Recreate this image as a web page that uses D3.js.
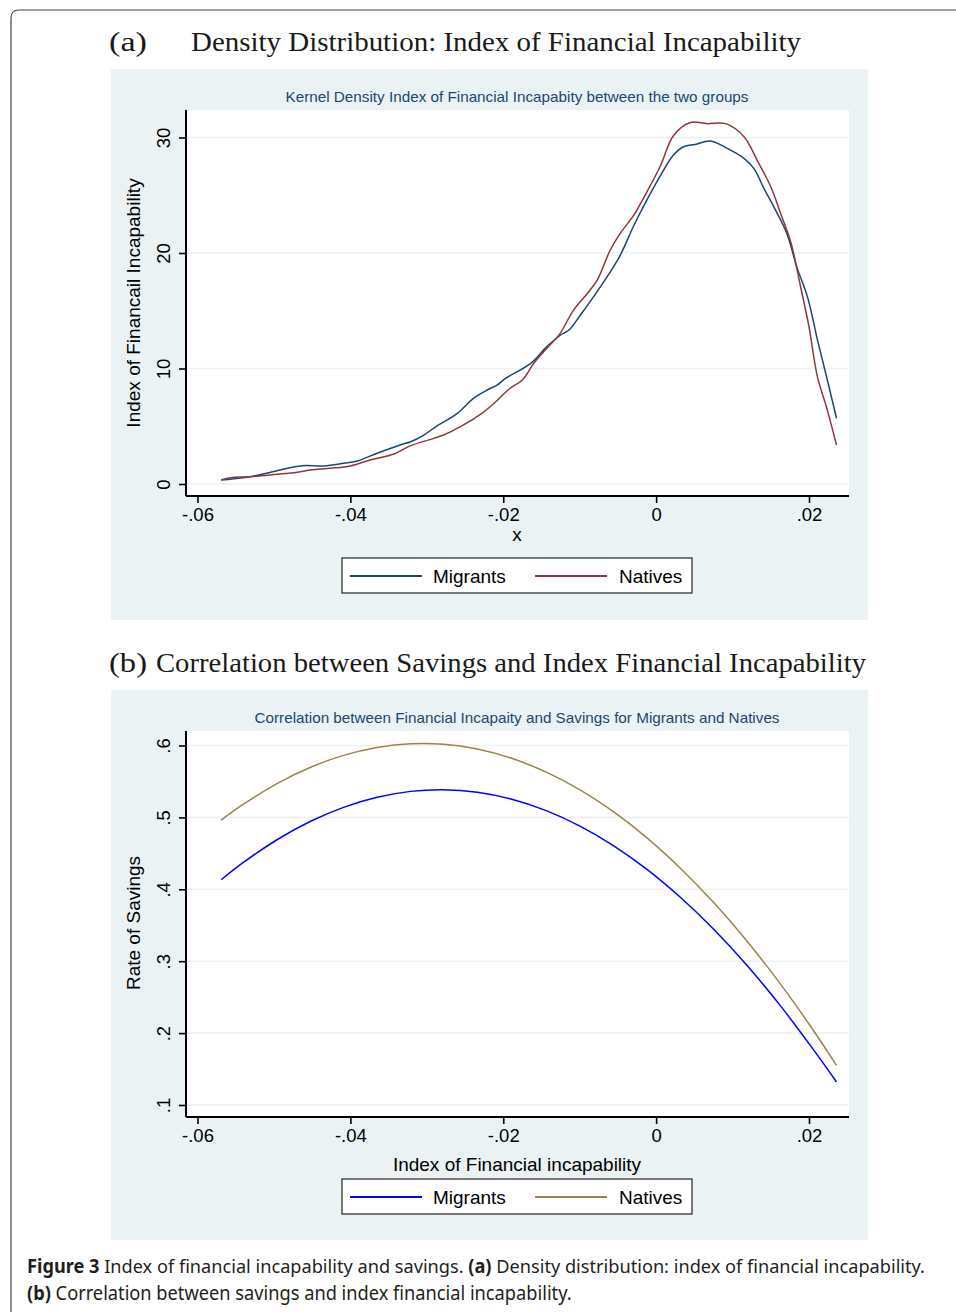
<!DOCTYPE html>
<html><head><meta charset="utf-8">
<script src="https://cdn.jsdelivr.net/npm/d3@7"></script>
<style>body{margin:0;background:#fff}svg{display:block}</style>
</head><body>
<svg id="c" width="956" height="1312"></svg>
<script>
// ---------- DATA ----------
const xTicks = [-0.06, -0.04, -0.02, 0, 0.02];
const xTickLabels = ["-.06", "-.04", "-.02", "0", ".02"];
const yTicksA = [0, 10, 20, 30];
const yTickLabelsA = ["0", "10", "20", "30"];
const yTicksB = [0.1, 0.2, 0.3, 0.4, 0.5, 0.6];
const yTickLabelsB = [".1", ".2", ".3", ".4", ".5", ".6"];
const seriesNames = ["Migrants", "Natives"];

// Panel (a): kernel density
const migrantsDensityX = [-0.0569,-0.0531,-0.0496,-0.0463,-0.0435,-0.0409,-0.0391,-0.0365,-0.0335,-0.0321,-0.0304,-0.0287,-0.0260,-0.0239,-0.0221,-0.0208,-0.0197,-0.0164,-0.0143,-0.0125,-0.0114,-0.0099,-0.0082,-0.0064,-0.0047,-0.0029,-0.0012,0.0006,0.0023,0.0036,0.0051,0.0071,0.0093,0.0115,0.0128,0.0141,0.0154,0.0171,0.0184,0.0198,0.0211,0.0224,0.0236];
const migrantsDensityY = [0.35,0.63,1.15,1.58,1.56,1.79,1.99,2.66,3.38,3.66,4.24,5.02,6.12,7.42,8.14,8.57,9.15,10.45,11.89,12.9,13.33,14.63,16.2,17.95,19.8,22.4,24.6,26.75,28.5,29.2,29.4,29.7,29.06,28.2,27.3,25.6,24.0,21.7,18.8,16.2,12.5,9.0,5.69];
const nativesDensityX = [-0.0569,-0.0557,-0.0531,-0.0496,-0.0474,-0.0452,-0.0426,-0.0400,-0.0374,-0.0343,-0.0321,-0.0291,-0.0278,-0.0256,-0.0228,-0.0212,-0.0191,-0.0175,-0.0160,-0.0143,-0.0127,-0.0108,-0.0090,-0.0077,-0.0060,-0.0047,-0.0029,-0.0012,0.0006,0.0023,0.0045,0.0067,0.0091,0.0115,0.0132,0.0150,0.0163,0.0176,0.0189,0.0200,0.0211,0.0224,0.0236];
const nativesDensityY = [0.35,0.55,0.63,0.84,0.98,1.21,1.36,1.56,2.08,2.6,3.32,3.95,4.24,4.96,6.12,6.99,8.29,9.0,10.45,11.75,12.9,15.06,16.5,17.66,20.26,21.7,23.3,25.3,27.6,30.2,31.3,31.2,31.2,30.07,28.05,25.74,23.4,20.98,17.08,13.6,9.29,6.4,3.38];

// Panel (b): fitted savings rate
const savingsX = [-0.0569,-0.0540,-0.0496,-0.0452,-0.0409,-0.0365,-0.0321,-0.0278,-0.0234,-0.0191,-0.0143,-0.0099,-0.0055,-0.0012,0.0032,0.0075,0.0119,0.0163,0.0206,0.0236];
const migrantsSavings = [0.4133,0.4373,0.4689,0.4946,0.5140,0.5280,0.5362,0.5385,0.5350,0.5259,0.5091,0.4876,0.4602,0.4277,0.3886,0.3448,0.2941,0.2375,0.1766,0.1320];
const nativesSavings = [0.4962,0.5183,0.5470,0.5697,0.5863,0.5973,0.6024,0.6017,0.5951,0.5829,0.5626,0.5379,0.5072,0.4715,0.4290,0.3819,0.3277,0.2677,0.2033,0.1550];

// ---------- DRAW ----------
const svg = d3.select("#c");
const SANS = "'Liberation Sans', Arial, sans-serif";
const SERIF = "'Liberation Serif', 'DejaVu Serif', serif";
const BG = "#eaf2f3";

// page frame
svg.append("path").attr("d","M11,1312 L11,18 Q11,10 19,10 L956,10")
  .attr("fill","none").attr("stroke","#444").attr("stroke-width",1.2);

function fitText(sel, target){
  const w = sel.node().getComputedTextLength();
  if (w > 0) sel.attr("textLength", target).attr("lengthAdjust","spacingAndGlyphs");
}

const x = d3.scaleLinear().domain([-0.06, 0.02]).range([197.5, 809]);

function panel(cfg){
  const g = svg.append("g");
  g.append("rect").attr("x",111).attr("y",cfg.bgTop).attr("width",757).attr("height",cfg.bgH).attr("fill",BG);
  g.append("rect").attr("x",186).attr("y",cfg.plotTop).attr("width",663).attr("height",cfg.plotBottom-cfg.plotTop).attr("fill","#fff");
  const y = cfg.y;
  // grid
  g.selectAll(".grid").data(cfg.yTicks).join("line")
    .attr("x1",186).attr("x2",849).attr("y1",d=>y(d)).attr("y2",d=>y(d))
    .attr("stroke",BG).attr("stroke-width",1.6);
  // subtitle
  const st = g.append("text").attr("x",517).attr("y",cfg.subY).attr("text-anchor","middle")
    .attr("font-family",SANS).attr("font-size",15).attr("fill","#1a476f").text(cfg.sub);
  fitText(st, cfg.subW);
  // lines
  const line = d3.line().x(d=>x(d[0])).y(d=>y(d[1])).curve(d3.curveCatmullRom.alpha(0.5));
  cfg.series.forEach(s=>{
    g.append("path").datum(s.xs.map((v,i)=>[v,s.ys[i]])).attr("d",line)
      .attr("fill","none").attr("stroke",s.color).attr("stroke-width",1.5);
  });
  // x axis
  const xa = g.append("g").attr("transform",`translate(0,${cfg.plotBottom})`)
    .call(d3.axisBottom(x).tickValues(xTicks).tickFormat((d,i)=>xTickLabels[i]).tickSize(7).tickSizeOuter(0).tickPadding(5));
  xa.select(".domain").attr("d",`M186,0H849`).attr("stroke","#000").attr("stroke-width",2);
  xa.selectAll(".tick line").attr("stroke","#000").attr("stroke-width",1.6);
  xa.selectAll("text").attr("font-family",SANS).attr("font-size",18.5).attr("fill","#000");
  // y axis
  const ya = g.append("g").attr("transform","translate(186,0)")
    .call(d3.axisLeft(y).tickValues(cfg.yTicks).tickFormat((d,i)=>cfg.yLabels[i]).tickSize(7).tickSizeOuter(0));
  ya.select(".domain").attr("d",`M0,${cfg.plotTop}V${cfg.plotBottom}`).attr("stroke","#000").attr("stroke-width",2);
  ya.selectAll(".tick line").attr("stroke","#000").attr("stroke-width",1.6);
  ya.selectAll("text").attr("x",null).attr("dy",null)
    .attr("transform","translate(-16,0) rotate(-90)").attr("text-anchor","middle")
    .attr("font-family",SANS).attr("font-size",18.5).attr("fill","#000");
  // axis titles
  g.append("text").attr("x",517).attr("y",cfg.xTitleY).attr("text-anchor","middle")
    .attr("font-family",SANS).attr("font-size",19).attr("fill","#000").text(cfg.xTitle);
  g.append("text").attr("transform",`translate(140,${cfg.yTitleC}) rotate(-90)`).attr("text-anchor","middle")
    .attr("font-family",SANS).attr("font-size",19).attr("fill","#000").text(cfg.yTitle);
  // legend
  const ly = cfg.legTop;
  g.append("rect").attr("x",342).attr("y",ly).attr("width",350).attr("height",35)
    .attr("fill","#fff").attr("stroke","#222").attr("stroke-width",1.2);
  const lx = [[350,422,433],[535,607,619]];
  cfg.series.forEach((s,i)=>{
    g.append("line").attr("x1",lx[i][0]).attr("x2",lx[i][1]).attr("y1",ly+18).attr("y2",ly+18)
      .attr("stroke",s.color).attr("stroke-width",2);
    g.append("text").attr("x",lx[i][2]).attr("y",ly+24.5).attr("font-family",SANS)
      .attr("font-size",19).attr("fill","#000").text(seriesNames[i]);
  });
}

panel({
  bgTop:69, bgH:551, plotTop:110, plotBottom:496,
  y: d3.scaleLinear().domain([0,30]).range([484,137.5]),
  yTicks: yTicksA, yLabels: yTickLabelsA,
  sub: "Kernel Density Index of Financial Incapabity between the two groups", subY:102, subW:463,
  xTitle: "x", xTitleY:541, yTitle: "Index of Financail Incapability", yTitleC:303,
  legTop:558,
  series:[
    {xs:migrantsDensityX, ys:migrantsDensityY, color:"#1a476f"},
    {xs:nativesDensityX, ys:nativesDensityY, color:"#90353b"}
  ]
});

panel({
  bgTop:690, bgH:550, plotTop:731, plotBottom:1117,
  y: d3.scaleLinear().domain([0.1,0.6]).range([1105,745.5]),
  yTicks: yTicksB, yLabels: yTickLabelsB,
  sub: "Correlation between Financial Incapaity and Savings for Migrants and Natives", subY:723, subW:525,
  xTitle: "Index of Financial incapability", xTitleY:1171, yTitle: "Rate of Savings", yTitleC:923,
  legTop:1179,
  series:[
    {xs:savingsX, ys:migrantsSavings, color:"#0000ff"},
    {xs:savingsX, ys:nativesSavings, color:"#9a8548"}
  ]
});

// panel titles
function serifText(txt, x0, y0, w){
  const t = svg.append("text").attr("x",x0).attr("y",y0).attr("font-family",SERIF)
    .attr("font-size",27).attr("fill","#1a1a1a").text(txt);
  fitText(t, w);
}
serifText("(a)", 109, 51, 38);
serifText("Density Distribution: Index of Financial Incapability", 191, 51, 610);
serifText("(b)", 109, 672, 38);
serifText("Correlation between Savings and Index Financial Incapability", 156, 672, 710);

// caption
function caption(parts, x0, y0, w){
  const g = svg.append("g").attr("transform",`translate(${x0},${y0})`);
  const t = g.append("text").attr("font-family","'Noto Sans', 'Open Sans', sans-serif")
    .attr("font-size",19).attr("fill","#231f20");
  parts.forEach(p=>t.append("tspan").attr("font-weight",p[1]?"700":"400").text(p[0]));
  const bw = t.node().getBBox().width;
  g.attr("transform",`translate(${x0},${y0}) scale(${w/bw},1)`);
}
caption([["Figure 3",true],["  Index of financial incapability and savings. ",false],["(a)",true],[" Density distribution: index of financial incapability.",false]], 27, 1273, 899);
caption([["(b)",true],[" Correlation between savings and index financial incapability.",false]], 27, 1300, 545);
</script>
</body></html>
